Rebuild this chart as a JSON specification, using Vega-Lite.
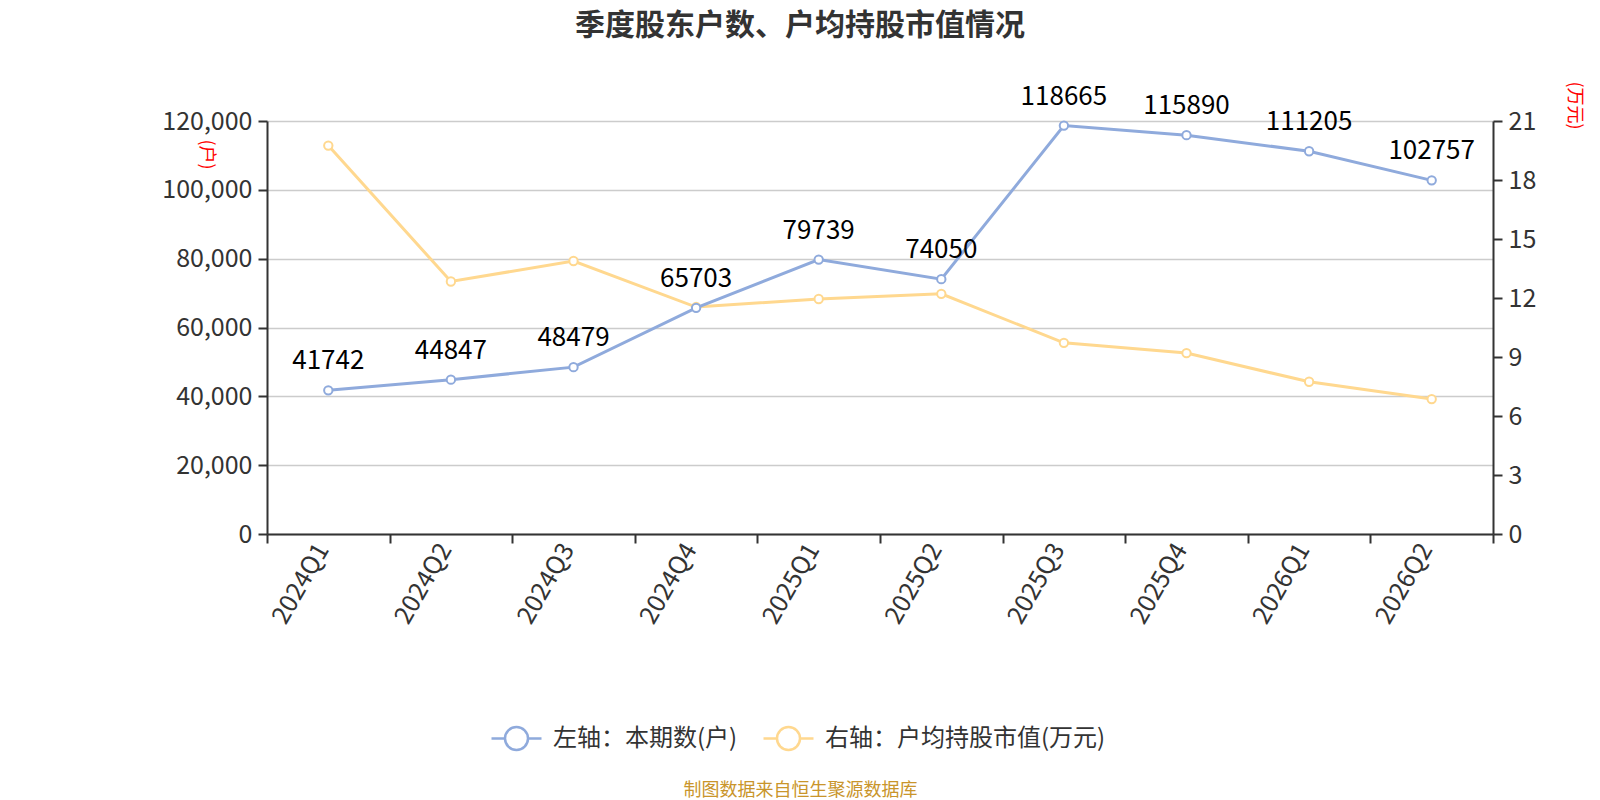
{
  "$schema": "https://vega.github.io/schema/vega-lite/v6.json",
  "autosize": "none",
  "width": 1226,
  "height": 413,
  "padding": {"left": 267, "top": 121, "right": 107, "bottom": 266},
  "background": "white",
  "title": {
    "text": "季度股东户数、户均持股市值情况",
    "fontSize": 30,
    "fontWeight": "bold",
    "color": "#333333",
    "anchor": "middle",
    "frame": "group",
    "dx": -80,
    "offset": 40
  },
  "data": {
    "values": [
      {"quarter": "2024Q1", "holders": 41742, "avg": 19.75},
      {"quarter": "2024Q2", "holders": 44847, "avg": 12.84},
      {"quarter": "2024Q3", "holders": 48479, "avg": 13.88},
      {"quarter": "2024Q4", "holders": 65703, "avg": 11.54},
      {"quarter": "2025Q1", "holders": 79739, "avg": 11.95},
      {"quarter": "2025Q2", "holders": 74050, "avg": 12.21},
      {"quarter": "2025Q3", "holders": 118665, "avg": 9.72},
      {"quarter": "2025Q4", "holders": 115890, "avg": 9.2},
      {"quarter": "2026Q1", "holders": 111205, "avg": 7.74},
      {"quarter": "2026Q2", "holders": 102757, "avg": 6.86}
    ]
  },
  "encoding": {
    "x": {
      "field": "quarter",
      "type": "ordinal",
      "sort": null,
      "bandPosition": 0.5,
      "scale": {"type": "band", "paddingInner": 0, "paddingOuter": 0},
      "axis": {
        "title": "制图数据来自恒生聚源数据库",
        "titleColor": "#c9952b",
        "titleFontSize": 18,
        "titleFontWeight": "normal",
        "titleX": 533,
        "titleY": 256,
        "titleAlign": "center",
        "titleBaseline": "middle",
        "labelAngle": -60,
        "labelFontSize": 25,
        "labelColor": "#333333",
        "labelPadding": 2,
        "labelOffset": -6,
        "tickBand": "extent",
        "tickSize": 9,
        "tickWidth": 2,
        "tickColor": "#333333",
        "domainColor": "#333333",
        "domainWidth": 2,
        "grid": false
      }
    }
  },
  "layer": [
    {
      "mark": {"type": "line", "strokeWidth": 3, "point": {"filled": false, "fill": "white", "size": 70, "strokeWidth": 2}},
      "encoding": {
        "y": {
          "field": "avg",
          "type": "quantitative",
          "scale": {"domain": [0, 21]},
          "axis": {
            "orient": "right",
            "values": [0, 3, 6, 9, 12, 15, 18, 21],
            "labelFontSize": 25,
            "labelColor": "#333333",
            "labelPadding": 6,
            "tickSize": 9,
            "tickWidth": 2,
            "tickColor": "#333333",
            "domainColor": "#333333",
            "domainWidth": 2,
            "grid": false,
            "title": "(万元)",
            "titleColor": "red",
            "titleFontSize": 18,
            "titleFontWeight": "normal",
            "titleAngle": 90,
            "titleX": 80,
            "titleY": -16,
            "titleAlign": "center",
            "titleBaseline": "middle"
          }
        },
        "color": {
          "datum": "右轴：户均持股市值(万元)",
          "type": "nominal",
          "scale": {
            "domain": ["左轴：本期数(户)", "右轴：户均持股市值(万元)"],
            "range": ["#8faadc", "#ffd88f"]
          }
        }
      }
    },
    {
      "encoding": {
        "y": {
          "field": "holders",
          "type": "quantitative",
          "scale": {"domain": [0, 120000]},
          "axis": {
            "orient": "left",
            "values": [0, 20000, 40000, 60000, 80000, 100000, 120000],
            "format": ",d",
            "labelFontSize": 25,
            "labelColor": "#333333",
            "labelPadding": 6,
            "tickSize": 9,
            "tickWidth": 2,
            "tickColor": "#333333",
            "domainColor": "#333333",
            "domainWidth": 2,
            "grid": true,
            "gridColor": "#cccccc",
            "gridWidth": 1.5,
            "title": "(户)",
            "titleColor": "red",
            "titleFontSize": 18,
            "titleFontWeight": "normal",
            "titleAngle": 90,
            "titleX": -62,
            "titleY": 33,
            "titleAlign": "center",
            "titleBaseline": "middle"
          }
        }
      },
      "layer": [
        {
          "mark": {"type": "line", "strokeWidth": 3, "point": {"filled": false, "fill": "white", "size": 70, "strokeWidth": 2}},
          "encoding": {
            "color": {"datum": "左轴：本期数(户)", "type": "nominal"}
          }
        },
        {
          "mark": {"type": "text", "fontSize": 26, "color": "#000000", "dy": -29, "baseline": "middle"},
          "encoding": {
            "text": {"field": "holders", "type": "quantitative", "format": "d"}
          }
        }
      ]
    }
  ],
  "resolve": {"scale": {"y": "independent"}},
  "config": {
    "font": "Noto Sans CJK SC",
    "view": {"stroke": null},
    "legend": {
      "orient": "none",
      "legendX": 223,
      "legendY": 591,
      "direction": "horizontal",
      "title": null,
      "padding": 0,
      "labelFontSize": 24,
      "labelColor": "#333333",
      "labelLimit": 0,
      "labelOffset": 10,
      "columnPadding": 20,
      "symbolType": "M-1,0H-0.46M0.46,0H1M-0.46,0A0.46,0.46,0,1,1,0.46,0A0.46,0.46,0,1,1,-0.46,0",
      "symbolSize": 2500,
      "symbolStrokeWidth": 2.5,
      "symbolFillColor": "white"
    }
  }
}
